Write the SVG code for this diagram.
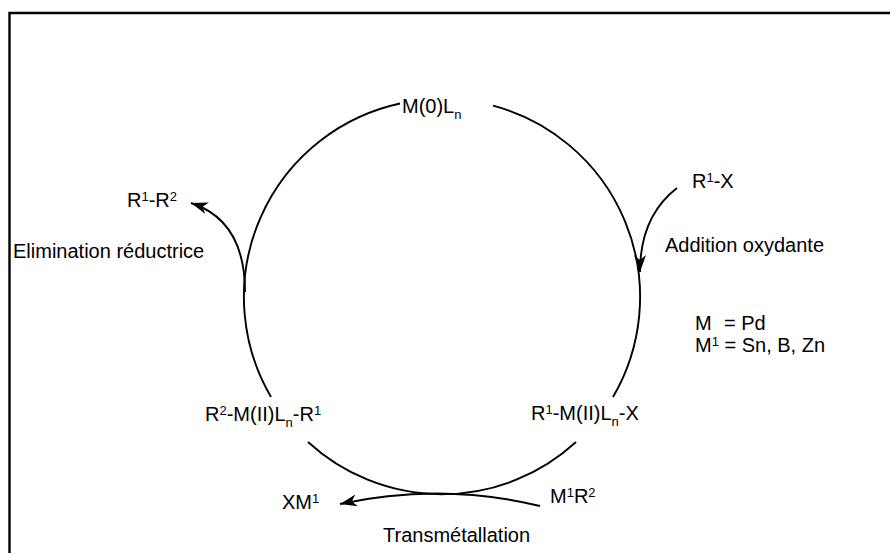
<svg xmlns="http://www.w3.org/2000/svg" width="890" height="553" viewBox="0 0 890 553">
<style>
text{font-family:"Liberation Sans",Arial,sans-serif;font-size:20px;fill:#000}
.s{font-size:13px}
.c{fill:none;stroke:#000;stroke-width:1.9}
.f{fill:none;stroke:#000;stroke-width:2.4}
</style>
<defs>
<marker id="ah" markerUnits="userSpaceOnUse" markerWidth="18" markerHeight="14" viewBox="0 0 18 14" refX="17" refY="7" orient="auto">
<path d="M0,1 L17,7 L0,13 L5,7 Z" fill="#000"/>
</marker>
</defs>
<rect width="890" height="553" fill="#fff"/>
<path class="f" d="M9.5,553 V13 H890"/>
<g id="connectors">
<path class="c" d="M400,103.5 A198,198 0 0 0 271,397"/>
<path class="c" d="M493,105.7 A198,198 0 0 1 613,397"/>
<path class="c" d="M308,442 A198,198 0 0 0 576,442"/>
<path class="c" d="M245,292 C245,245 228,215 191,203" marker-end="url(#ah)"/>
<path class="c" d="M677,188 C655,205 640,230 640,272" marker-end="url(#ah)"/>
<path class="c" d="M540,506 Q440,482 340,504" marker-end="url(#ah)"/>
</g>
<g id="n-m0"><text x="402" y="113">M(0)L<tspan class="s" dy="6">n</tspan></text></g>
<g id="n-r1x"><text x="692" y="188">R<tspan class="s" dy="-6">1</tspan><tspan dy="6">-X</tspan></text></g>
<g id="n-addition"><text x="665" y="252">Addition oxydante</text></g>
<g id="n-r1r2"><text x="127" y="207">R<tspan class="s" dy="-6">1</tspan><tspan dy="6">-R</tspan><tspan class="s" dy="-6">2</tspan></text></g>
<g id="n-elimination"><text x="13" y="258">Elimination réductrice</text></g>
<g id="n-legend"><text x="695" y="330">M <tspan x="724">= Pd</tspan></text><text x="695" y="352">M<tspan class="s" dy="-6">1</tspan><tspan dy="6"> = Sn, B, Zn</tspan></text></g>
<g id="n-r2mr1"><text x="205" y="421">R<tspan class="s" dy="-6">2</tspan><tspan dy="6">-M(II)L</tspan><tspan class="s" dy="6">n</tspan><tspan dy="-6">-R</tspan><tspan class="s" dy="-6">1</tspan></text></g>
<g id="n-r1mx"><text x="531" y="420">R<tspan class="s" dy="-6">1</tspan><tspan dy="6">-M(II)L</tspan><tspan class="s" dy="6">n</tspan><tspan dy="-6">-X</tspan></text></g>
<g id="n-xm1"><text x="282" y="509">XM<tspan class="s" dy="-6">1</tspan></text></g>
<g id="n-m1r2"><text x="550" y="503">M<tspan class="s" dy="-6">1</tspan><tspan dy="6">R</tspan><tspan class="s" dy="-6">2</tspan></text></g>
<g id="n-trans"><text x="383" y="542">Transmétallation</text></g>
</svg>
